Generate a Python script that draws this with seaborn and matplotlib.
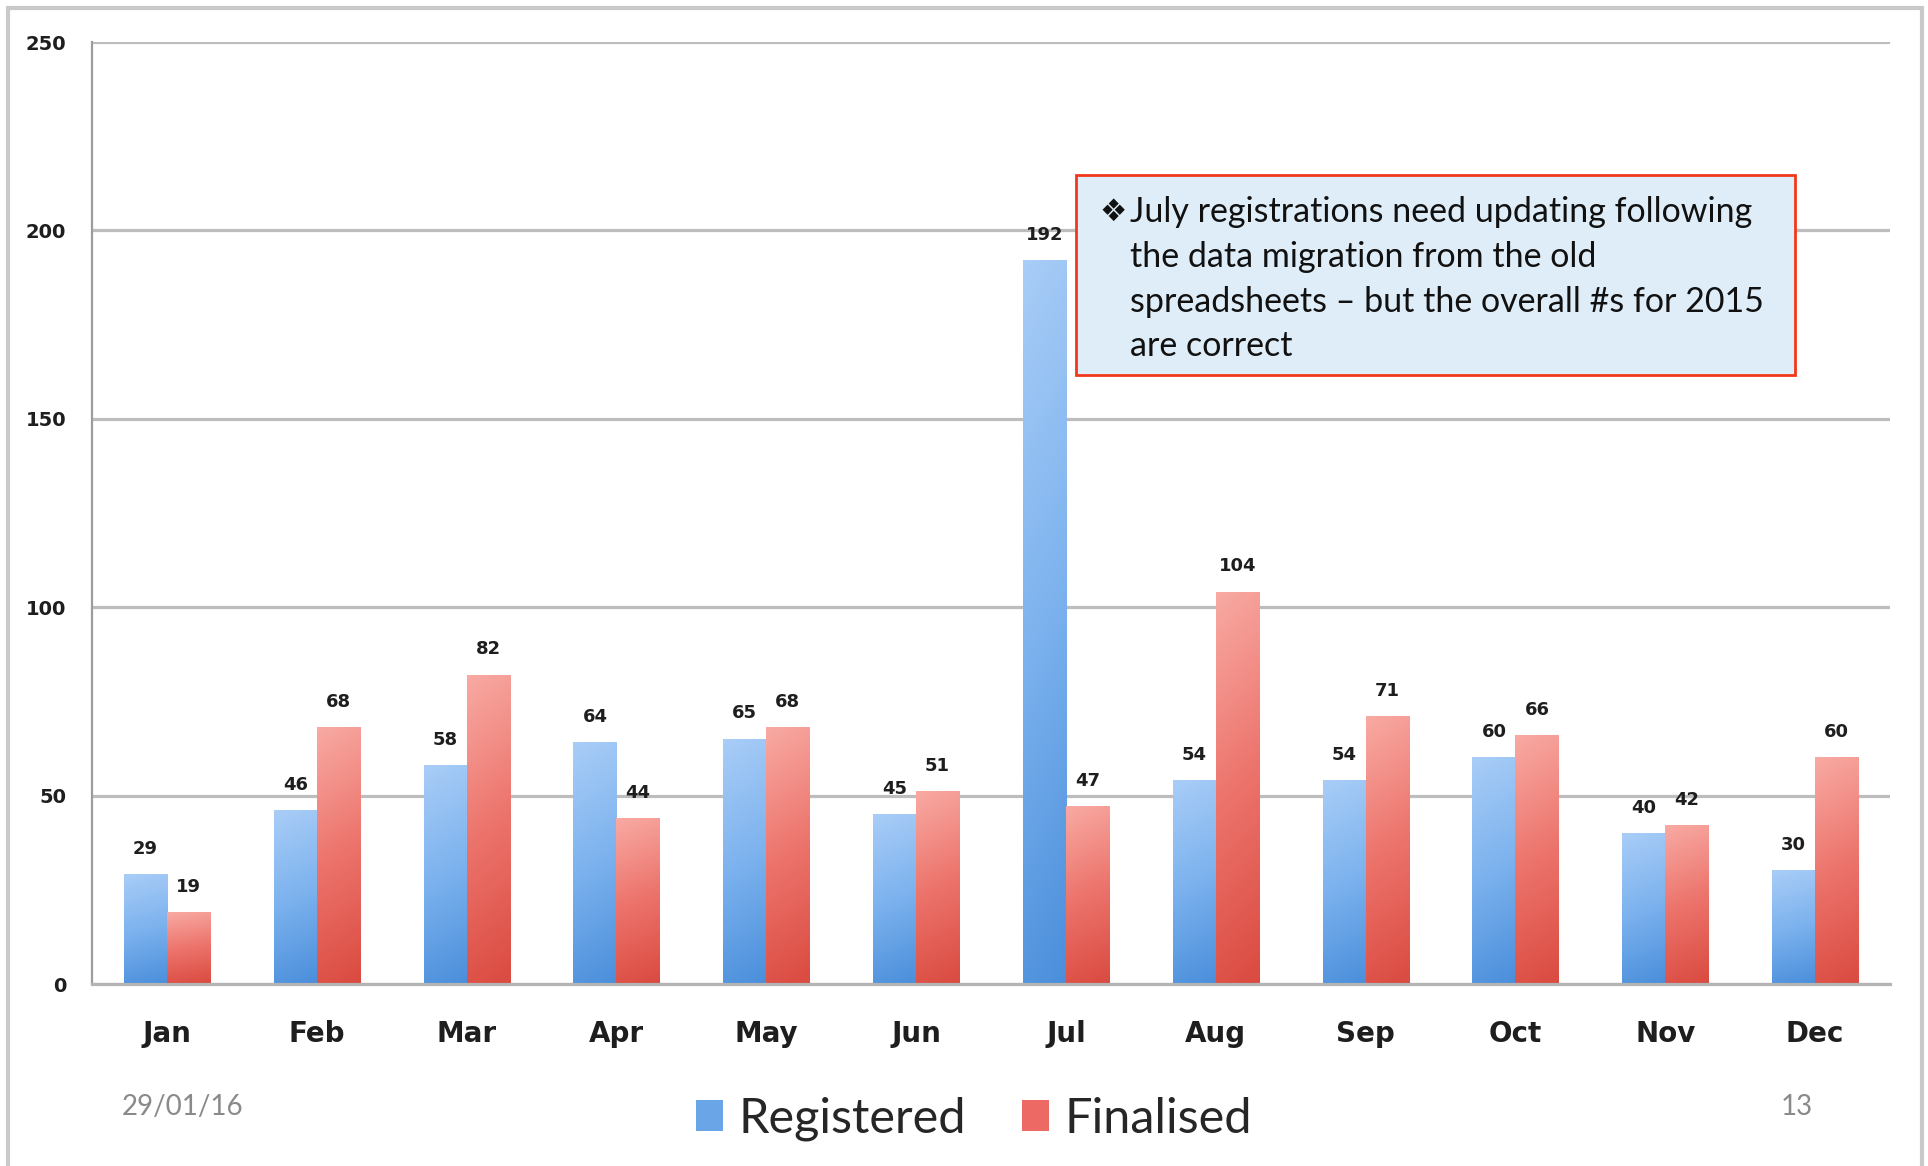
import numpy as np
import pandas as pd
import matplotlib
matplotlib.use("Agg")
import matplotlib.pyplot as plt
import seaborn as sns
from matplotlib.patches import Rectangle, Patch
from matplotlib.colors import LinearSegmentedColormap

# ---------------- data ----------------
months = ["Jan", "Feb", "Mar", "Apr", "May", "Jun",
          "Jul", "Aug", "Sep", "Oct", "Nov", "Dec"]
registered = [29, 46, 58, 64, 65, 45, 192, 54, 54, 60, 40, 30]
finalised = [19, 68, 82, 44, 68, 51, 47, 104, 71, 66, 42, 60]
series_names = ["Registered", "Finalised"]
y_ticks = [0, 50, 100, 150, 200, 250]
note_lines = ["July registrations need updating following",
              "the data migration from the old",
              "spreadsheets \u2013 but the overall #s for 2015",
              "are correct"]
footer_date = "29/01/16"
page_number = "13"

df = pd.DataFrame({
    "Month": months * 2,
    "Count": registered + finalised,
    "Series": [series_names[0]] * len(months) + [series_names[1]] * len(months),
})

# ---------------- style ----------------
sns.set_theme(style="white")
plt.rcParams['font.family'] = ['DejaVu Sans']
TXT = ['Lato', 'DejaVu Sans']

W, H = 1928, 1166
fig = plt.figure(figsize=(W / 100, H / 100), dpi=100)
fig.patch.set_facecolor("white")

ax = fig.add_axes([92 / W, 1 - 984 / H, (1890 - 92) / W, (984 - 42) / H])

palette = {"Registered": "#6fa9ea", "Finalised": "#ec7068"}
sns.barplot(data=df, x="Month", y="Count", hue="Series", order=months,
            hue_order=series_names, palette=palette, width=0.575,
            saturation=1, errorbar=None, legend=False, ax=ax,
            edgecolor="none", linewidth=0)

grad = {
    "Registered": LinearSegmentedColormap.from_list("b", ["#4a8edb", "#7cb2ee", "#a9cdf7"]),
    "Finalised": LinearSegmentedColormap.from_list("r", ["#da4a40", "#ec736b", "#f8aaa3"]),
}

# gradient overlay on each bar, drawn in the bar's own extent
tv = np.linspace(0, 1, 256)[:, None]
sv = np.linspace(0, 1, 32)[None, :]
img = np.clip(tv * 0.9 + (1 - sv) * 0.1, 0, 1)
for name, cont in zip(series_names, ax.containers):
    for bar in cont:
        x0, w = bar.get_x(), bar.get_width()
        h = bar.get_height()
        ax.imshow(img, extent=[x0, x0 + w, 0, h], origin="lower",
                  aspect="auto", cmap=grad[name], vmin=0, vmax=1,
                  zorder=bar.get_zorder() + 0.1, interpolation="bilinear")
    ax.bar_label(cont, padding=12, fontsize=13, fontweight="bold",
                 color="#1e1e1e", zorder=10)

ax.set_xlim(-0.5, len(months) - 0.5)
ax.set_ylim(0, 250)
ax.set_xlabel("")
ax.set_ylabel("")

# grid & spines
ax.set_yticks(y_ticks)
ax.yaxis.grid(True, color="#bdbdbd", linewidth=2.3)
ax.set_axisbelow(True)
for s in ["top", "right"]:
    ax.spines[s].set_visible(False)
ax.spines["left"].set_color("#9c9c9c")
ax.spines["left"].set_linewidth(1.6)
ax.spines["bottom"].set_color("#b4b4b4")
ax.spines["bottom"].set_linewidth(2.3)

ax.tick_params(axis="y", length=6.5, width=2.3, color="#bdbdbd", pad=12,
               labelsize=14, labelcolor="#1e1e1e")
for lab in ax.get_yticklabels():
    lab.set_fontweight("bold")

ax.set_xticks(np.arange(-0.5, len(months), 1), minor=True)
ax.tick_params(axis="x", which="major", length=0, pad=26, labelsize=20,
               labelcolor="#1e1e1e")
ax.tick_params(axis="x", which="minor", length=5, width=1.5, color="#aaaaaa",
               direction="out")
for lab in ax.get_xticklabels():
    lab.set_fontweight("bold")

# legend
handles = [Patch(facecolor="#6aa5e8", edgecolor="none", label=series_names[0]),
           Patch(facecolor="#ec6a63", edgecolor="none", label=series_names[1])]
fig.legend(handles=handles, loc="center", bbox_to_anchor=(974 / W, 1 - 1119 / H),
           ncol=2, frameon=False, prop={"family": TXT, "size": 35},
           handlelength=0.55, handleheight=0.6, handletextpad=0.33,
           columnspacing=1.15, borderpad=0)

# footer
fig.text(122 / W, 1 - 1107 / H, footer_date, ha="left", va="center",
         family=TXT, fontsize=20, color="#8a8a8a")
fig.text(1797 / W, 1 - 1107 / H, page_number, ha="center", va="center",
         family=TXT, fontsize=20, color="#8a8a8a")

# annotation box
fig.add_artist(Rectangle((1076 / W, 1 - 375 / H), (1795 - 1076) / W, (375 - 175) / H,
                         transform=fig.transFigure, facecolor="#deedf7",
                         edgecolor="#f2381c", linewidth=2, zorder=20))
fig.text(1113 / W, 1 - 212 / H, "\u2756", ha="center", va="center",
         family=['DejaVu Sans'], fontsize=22, color="#111111", zorder=21)
for i, line in enumerate(note_lines):
    fig.text(1130 / W, 1 - (212.5 + i * 44.5) / H, line, ha="left", va="center",
             family=TXT, fontsize=24.5, color="#111111", zorder=21)

# slide frame
fig.add_artist(Rectangle((8 / W, -0.05), (1922 - 8) / W, 1.05 - 8 / H,
                         transform=fig.transFigure, fill=False,
                         edgecolor="#c9c9c9", linewidth=3, zorder=0))

fig.savefig("out.png", dpi=100, facecolor="white")
